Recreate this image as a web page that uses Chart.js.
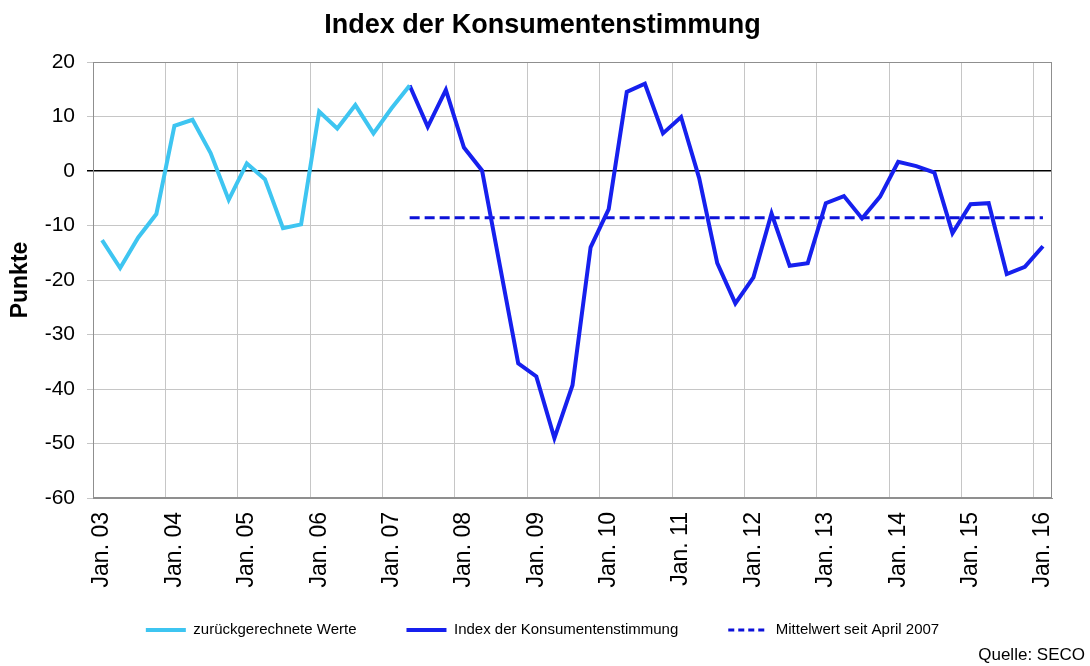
<!DOCTYPE html>
<html>
<head>
<meta charset="utf-8">
<title>Index der Konsumentenstimmung</title>
<script src="https://cdn.jsdelivr.net/npm/chart.js@4/dist/chart.umd.min.js"></script>
<style>
  html, body { margin: 0; padding: 0; background: #fff; }
</style>
</head>
<body>
<canvas id="grafik" width="1090" height="666"></canvas>
<script>
// Quartale Jan. 03 bis Jan. 16
const quartale = [
  'Jan. 03', 'Apr. 03', 'Jul. 03', 'Okt. 03',
  'Jan. 04', 'Apr. 04', 'Jul. 04', 'Okt. 04',
  'Jan. 05', 'Apr. 05', 'Jul. 05', 'Okt. 05',
  'Jan. 06', 'Apr. 06', 'Jul. 06', 'Okt. 06',
  'Jan. 07', 'Apr. 07', 'Jul. 07', 'Okt. 07',
  'Jan. 08', 'Apr. 08', 'Jul. 08', 'Okt. 08',
  'Jan. 09', 'Apr. 09', 'Jul. 09', 'Okt. 09',
  'Jan. 10', 'Apr. 10', 'Jul. 10', 'Okt. 10',
  'Jan. 11', 'Apr. 11', 'Jul. 11', 'Okt. 11',
  'Jan. 12', 'Apr. 12', 'Jul. 12', 'Okt. 12',
  'Jan. 13', 'Apr. 13', 'Jul. 13', 'Okt. 13',
  'Jan. 14', 'Apr. 14', 'Jul. 14', 'Okt. 14',
  'Jan. 15', 'Apr. 15', 'Jul. 15', 'Okt. 15',
  'Jan. 16'
];

// zurückgerechnete Werte, Jan. 03 bis Apr. 07
const zurueckgerechnet = [
  -12.7, -17.8, -12.2, -7.9, 8.3, 9.4, 3.3, -5.3, 1.4, -1.5,
  -10.5, -9.8, 10.9, 7.8, 12.1, 6.9, 11.5, 15.7
];

// Index der Konsumentenstimmung, Apr. 07 bis Jan. 16
const konsumenten = [
  15.7, 8.1, 14.9, 4.3, 0.1, -17.6, -35.3, -37.7, -49.0, -39.3,
  -14.0, -7.0, 14.5, 16.0, 6.9, 9.9, -1.3, -16.9, -24.3, -19.5,
  -7.8, -17.4, -16.9, -5.9, -4.6, -8.7, -4.7, 1.7, 0.9, -0.3,
  -11.4, -6.1, -5.9, -18.9, -17.6, -13.8
];

const mittelwert = -8.6;
const startIndex = 'Apr. 07';
const endeIndex = 'Jan. 16';

const yTicks = [-60, -50, -40, -30, -20, -10, 0, 10, 20];

Chart.defaults.font.family = "'Liberation Sans', Arial, sans-serif";
Chart.defaults.color = '#000';

const grau = '#c6c6c6';
const rahmen = '#8f8f8f';

// Rahmen um die Zeichenfläche
const rahmenPlugin = {
  id: 'rahmen',
  beforeDatasetsDraw(chart) {
    const a = chart.chartArea;
    const ctx = chart.ctx;
    ctx.save();
    ctx.strokeStyle = rahmen;
    ctx.lineWidth = 1;
    ctx.strokeRect(Math.round(a.left) + 0.5, Math.round(a.top) + 0.5,
      Math.round(a.right - a.left) - 1, Math.round(a.bottom - a.top) - 1);
    ctx.restore();
  }
};

const leer = quartale.map(() => null);
const datenAlt = leer.slice();
zurueckgerechnet.forEach((v, i) => { datenAlt[i] = v; });
const start = quartale.indexOf(startIndex);
const datenNeu = leer.slice();
konsumenten.forEach((v, i) => { datenNeu[start + i] = v; });

new Chart(document.getElementById('grafik'), {
  type: 'line',
  data: {
    labels: quartale,
    datasets: [
      {
        label: 'zurückgerechnete Werte',
        data: datenAlt,
        borderColor: '#3ec5f1',
        backgroundColor: '#3ec5f1',
        borderWidth: 4,
        pointRadius: 0,
        tension: 0
      },
      {
        label: 'Index der Konsumentenstimmung',
        data: datenNeu,
        borderColor: '#1620ee',
        backgroundColor: '#1620ee',
        borderWidth: 4,
        pointRadius: 0,
        tension: 0
      },
      {
        label: 'Mittelwert seit April 2007',
        data: [{ x: startIndex, y: mittelwert }, { x: endeIndex, y: mittelwert }],
        borderColor: '#0c12d8',
        backgroundColor: '#0c12d8',
        borderWidth: 3,
        borderDash: [10, 5],
        pointRadius: 0,
        tension: 0
      }
    ]
  },
  options: {
    responsive: false,
    animation: false,
    devicePixelRatio: 1,
    layout: { padding: { left: 0, right: 5, top: 0, bottom: 0 } },
    plugins: {
      title: {
        display: true,
        text: 'Index der Konsumentenstimmung',
        font: { size: 27, weight: 'bold' },
        padding: { top: 9, bottom: 20.6 }
      },
      subtitle: {
        display: true,
        position: 'bottom',
        align: 'end',
        text: 'Quelle: SECO',
        font: { size: 17 },
        padding: { top: 0, bottom: 0 }
      },
      legend: {
        position: 'bottom',
        maxHeight: 73,
        labels: {
          usePointStyle: true,
          pointStyle: 'line',
          pointStyleWidth: 40,
          boxHeight: 15,
          padding: 50,
          font: { size: 15 },
          generateLabels: (chart) => {
            const items = Chart.defaults.plugins.legend.labels.generateLabels(chart);
            items.forEach((it) => {
              const ds = chart.data.datasets[it.datasetIndex];
              it.strokeStyle = ds.borderColor;
              it.lineWidth = ds.borderWidth;
              it.lineDash = ds.borderDash ? [6, 4] : [];
            });
            return items;
          }
        }
      },
      tooltip: { enabled: false }
    },
    scales: {
      x: {
        type: 'category',
        offset: true,
        grid: {
          offset: true,
          drawTicks: false,
          color: (c) => (c.index % 4 === 0 && c.index < quartale.length) ? grau : 'rgba(0,0,0,0)'
        },
        border: { color: rahmen },
        ticks: {
          autoSkip: false,
          minRotation: 90,
          maxRotation: 90,
          padding: 14,
          font: { size: 23 },
          callback: (v, i) => (i % 4 === 0 ? quartale[i] : '')
        },
        afterFit: (s) => {
          s.height = 74.6;
          // Beschriftungen nicht auf die Achsenhöhe beschneiden
          s._computeLabelArea = () => undefined;
        }
      },
      y: {
        min: yTicks[0],
        max: yTicks[yTicks.length - 1],
        afterBuildTicks: (s) => { s.ticks = yTicks.map((v) => ({ value: v })); },
        grid: {
          color: (c) => (c.tick && c.tick.value === 0 ? '#000' : grau),
          lineWidth: (c) => (c.tick && c.tick.value === 0 ? 1.5 : 1),
          tickLength: 6
        },
        border: { color: rahmen },
        ticks: { font: { size: 21 }, padding: 12 },
        title: {
          display: true,
          text: 'Punkte',
          font: { size: 23, weight: 'bold' },
          padding: { top: 7, bottom: 0 }
        },
        afterFit: (s) => { s.width = 93; }
      },
      rechts: {
        position: 'right',
        display: true,
        grid: { display: false },
        border: { display: false },
        ticks: { display: false },
        afterFit: (s) => { s.width = 33; }
      }
    }
  },
  plugins: [rahmenPlugin]
});
</script>
</body>
</html>
